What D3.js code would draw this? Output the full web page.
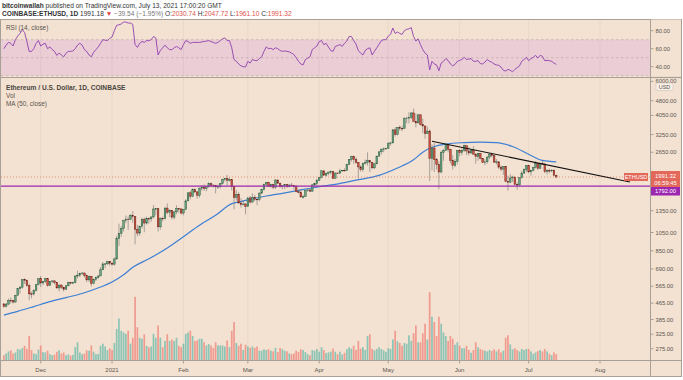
<!DOCTYPE html>
<html><head><meta charset="utf-8">
<script src="https://cdn.jsdelivr.net/npm/d3@7"></script>
<style>html,body{margin:0;padding:0;background:#fff;}svg{display:block;font-family:"Liberation Sans",Arial,sans-serif;}</style>
</head><body><svg id="c" width="683" height="380"></svg>
<script>
// ---- DATA (daily candles, COINBASE:ETHUSD, from 2020-11-15) ----
const firstDay = "2020-11-15";
const open = [
461,448,460,480,479,471,509,549,559,609,604,569,518,517,538,575,
616,587,598,616,569,596,601,591,554,573,559,546,568,590,586,589,636,642,655,658,638,608,634,584,612,626,636,683,731,732,751,
737,729,774,978,1041,1100,1208,1225,1224,1281,1262,1090,1043,1130,1218,1171,1233,1230,1257,1377,1382,1121,1236,1231,1392,1324,1357,1253,1332,1383,1379,
1314,1370,1512,1660,1594,1719,1677,1614,1750,1769,1744,1783,1843,1814,1804,1779,1781,1848,1937,1960,1919,1935,1781,1571,1626,1475,1446,1459,
1416,1565,1492,1575,1541,1533,1654,1723,1834,1868,1794,1825,1772,1924,1854,1791,1806,1823,1782,1815,1806,1782,1681,1669,1582,1587,1700,1715,1691,1818,1846,
1919,1977,2139,2034,2079,2107,2116,1963,2085,2076,2137,2152,2140,2300,2434,2518,2432,2355,2237,2166,2330,2362,2408,2363,2214,2317,2534,2662,2746,2757,
2773,2945,2950,3431,3253,3523,3490,3484,3902,3928,3952,4168,3785,3715,4079,3640,3587,3282,3380,2460,2784,2430,2295,2109,2643,2706,2888,2742,2415,2279,2388,
2706,2634,2708,2855,2689,2627,2714,2592,2518,2610,2472,2353,2373,2508,2590,2550,2365,2373,2231,2181,2247,1895,1875,1970,1990,1830,1816,1975,2084,2165,
2275,2113,2150,2226,2321,2198,2324,2316,2116,2146,2139,2155,2030.74];
const high = [
464,466,491,497,483,512,553,568,611,619,612,583,530,545,578,616,
636,600,622,619,598,604,604,594,576,576,560,571,595,591,596,640,676,660,667,662,647,639,637,616,631,644,705,746,739,754,753,
749,788,1011,1163,1132,1210,1278,1265,1300,1345,1262,1148,1133,1245,1250,1260,1250,1260,1440,1395,1385,1254,1262,1402,1468,1370,1360,1345,1436,1395,1380,
1380,1540,1667,1697,1745,1745,1694,1765,1815,1828,1788,1870,1870,1826,1808,1825,1854,1950,1965,2040,1980,1938,1786,1710,1673,1560,1525,1470,
1570,1600,1650,1621,1545,1668,1735,1840,1880,1890,1840,1840,1945,1930,1870,1815,1830,1835,1835,1860,1815,1810,1723,1737,1625,1705,1733,1730,1836,1860,1950,
1990,2145,2145,2097,2120,2150,2130,2095,2100,2190,2160,2200,2320,2450,2545,2550,2500,2370,2275,2350,2440,2645,2410,2365,2345,2540,2675,2760,2800,2790,
2950,2985,3460,3530,3540,3610,3590,3970,3985,4200,4200,4380,4145,4100,4100,3900,3600,3560,3440,2900,2940,2480,2380,2700,2750,2915,2890,2755,2560,2450,2715,
2740,2770,2890,2860,2815,2745,2840,2620,2630,2620,2480,2450,2520,2620,2630,2550,2450,2380,2280,2260,2250,2020,2060,2020,2000,1870,1980,2140,2200,2280,
2280,2160,2240,2390,2325,2350,2410,2320,2180,2190,2170,2175,2047.72];
const low = [
440,443,454,463,463,467,507,519,549,580,560,482,492,508,532,571,
560,572,588,562,566,585,578,550,532,547,532,543,565,576,579,583,619,627,645,625,593,593,563,578,600,614,636,683,695,722,715,
717,717,769,900,998,1062,1170,1080,1210,1172,917,1005,1012,1103,1053,1151,1160,1188,1240,1282,1063,1086,1194,1220,1298,1256,1222,1221,1295,1320,1290,
1280,1360,1505,1540,1585,1650,1550,1570,1700,1697,1690,1758,1776,1760,1650,1737,1745,1825,1891,1800,1890,1705,1370,1520,1468,1400,1432,1294,
1410,1465,1485,1510,1440,1505,1637,1700,1798,1780,1760,1730,1735,1850,1760,1730,1730,1755,1770,1800,1720,1670,1650,1575,1550,1585,1680,1680,1680,1800,1770,
1900,1960,2025,2000,2030,2050,1945,1960,2060,2075,2110,2115,2140,2290,2380,2320,2315,1950,2120,2115,2300,2270,2110,2175,2180,2310,2520,2580,2650,2720,
2765,2860,2940,3175,3215,3400,3380,3480,3700,3700,3880,3780,3530,3700,3600,3300,3100,3270,1900,2150,2110,2170,1730,2080,2400,2690,2650,2330,2170,2230,2300,
2530,2560,2660,2560,2550,2610,2580,2320,2400,2440,2340,2280,2320,2450,2500,2340,2300,2180,2130,2040,1880,1700,1860,1880,1810,1720,1800,1950,2060,2100,
2080,2020,2120,2200,2160,2190,2300,2080,2050,2080,2100,2010,1961.10];
const close = [
448,460,480,479,471,509,549,559,609,604,569,518,517,538,575,616,
587,598,616,569,596,601,591,554,573,559,546,568,590,586,589,636,642,655,658,638,608,634,584,612,626,636,683,731,732,751,737,
729,774,978,1041,1100,1208,1225,1224,1281,1262,1090,1043,1130,1218,1171,1233,1230,1257,1377,1382,1121,1236,1231,1392,1324,1357,1253,1332,1383,1379,1314,
1370,1512,1660,1594,1719,1677,1614,1750,1769,1744,1783,1843,1814,1804,1779,1781,1848,1937,1960,1919,1935,1781,1571,1626,1475,1446,1459,1416,
1565,1492,1575,1541,1533,1654,1723,1834,1868,1794,1825,1772,1924,1854,1791,1806,1823,1782,1815,1806,1782,1681,1669,1582,1587,1700,1715,1691,1818,1846,1919,
1977,2139,2034,2079,2107,2116,1963,2085,2076,2137,2152,2140,2300,2434,2518,2432,2355,2237,2166,2330,2362,2408,2363,2214,2317,2534,2662,2746,2757,2773,
2945,2950,3431,3253,3523,3490,3484,3902,3928,3952,4168,3785,3715,4079,3640,3587,3282,3380,2460,2784,2430,2295,2109,2643,2706,2888,2742,2415,2279,2388,2706,
2634,2708,2855,2689,2627,2714,2592,2518,2610,2472,2353,2373,2508,2590,2550,2365,2373,2231,2181,2247,1895,1875,1970,1990,1830,1816,1975,2084,2165,2275,
2113,2150,2226,2321,2198,2324,2316,2116,2146,2139,2155,2031,1991.32];
const volume = [
150,200,260,290,200,230,330,310,360,420,330,700,300,200,180,310,
430,240,230,280,180,150,170,250,290,200,230,150,170,140,160,380,520,230,180,200,290,280,430,250,180,190,420,480,400,300,350,
300,500,900,1200,850,800,760,850,480,650,1820,950,650,620,750,420,380,400,760,650,1000,650,380,560,750,560,600,560,650,420,380,
480,760,800,850,700,560,580,620,620,520,430,470,430,360,520,430,430,430,400,570,380,850,1100,500,420,480,300,450,
400,360,400,360,400,280,280,320,300,320,280,260,360,240,360,320,280,260,200,180,200,280,240,320,300,240,180,150,300,280,330,
250,380,300,210,230,250,340,250,180,250,170,220,320,380,340,420,300,560,340,380,300,700,750,330,290,330,380,330,290,250,
350,330,600,850,550,500,420,500,480,720,560,780,1000,520,520,780,1050,600,1950,1250,1100,700,1250,1050,800,700,560,700,620,450,520,
420,350,350,420,300,220,300,520,380,330,300,280,260,300,270,320,260,320,230,280,650,720,460,320,350,300,260,330,300,330,
330,260,190,230,270,300,260,330,260,190,150,230,180];
const rsi = [
60,64,67,66,63,70,74,77,81,78,68,57,57,60,66,69,
63,65,66,60,62,59,57,52.6,55,53,51,55,57,57,57.5,60,64,66,64,59,57,53,51,56,59,62,66,70,69.5,69,71.5,
73,80,86,86.5,87.5,89.5,89.7,88.5,88.5,87,64.5,61.5,66,68,67,69,69,70,73.5,72,53,58,61,64,61,59,59,61,62.5,61,59,
64.5,69,68,66,67,67,67,67,67.5,68,68.5,69,68,67,66,67,69,71,72,69,69,61,48,46,43,41,40,39.7,
46,44,48,47,46.7,49,51,57,62,60,60.5,59,61,60,58,57,57.5,57,56.5,55,53.5,50,46,43,42,48,49.5,51,59,61,63,
68,69,64.5,66,62,58,57,62.6,63.5,64.5,62.6,66,68.5,73.5,73.5,69,65,58,55,53,58,60,61,53,57,61,65,69,70,70,
74,76,83,77,78.5,77,75.8,80,81.5,82,83.5,73.5,68.5,71,64.5,59,55,53,36.5,46,43,42,35.5,44,46,49,47,43,41,42.5,46,
47,48,50.4,48,48.5,49,46,46,46.7,43.5,43,45,48,46,45,43,42,41.5,39.6,36,35.2,37,36,34.4,37,39,40.7,46,48,50.4,
46.7,49,50.4,52.6,49.6,52.6,51.5,46.7,47,46.7,46,44,42.6];
// 50-day moving average
const maDates = ["2020-11-15","2020-11-21","2020-11-28","2020-12-05","2020-12-12","2020-12-19","2020-12-27","2021-01-01","2021-01-06","2021-01-10","2021-01-17","2021-01-25","2021-02-01","2021-02-08","2021-02-15","2021-02-22","2021-02-26","2021-03-09","2021-03-16","2021-03-24","2021-04-01","2021-04-08","2021-04-17","2021-04-27","2021-05-05","2021-05-12","2021-05-16","2021-05-21","2021-05-26","2021-06-03","2021-06-10","2021-06-17","2021-06-24","2021-07-01","2021-07-07","2021-07-13"];
const maValues = [405,423,447,473,496,520,560,593,645,703,775,878,1000,1143,1280,1465,1500,1600,1650,1715,1780,1830,1920,2030,2210,2430,2650,2830,2910,2960,2975,2960,2830,2590,2410,2370];
// drawn trend line and horizontal level
const trendDates = ["2021-05-20","2021-08-14"];
const trendPrices = [3010, 1880];
const levelPrice = 1792;
const lastPrice = 1991.32;
// axis ticks
const priceTicks = [6000,4800,4050,3250,2650,1350,1050,850,690,565,465,385,325,275];
const rsiTicks = [80,60,40];
const monthDates = ["2020-12-01","2021-01-01","2021-02-01","2021-03-01","2021-04-01","2021-05-01","2021-06-01","2021-07-01","2021-08-01"];
const monthLabels = ["Dec","2021","Feb","Mar","Apr","May","Jun","Jul","Aug"];

// ---- RENDER ----
const W=683,H=380;
const svg=d3.select('#c');
const BG='#f3e2d1', FRAME='#a8a096', TXT='#5a5550';
const parse=d3.utcParse('%Y-%m-%d');
const d0=parse(firstDay);
const dates=close.map((_,i)=>d3.utcDay.offset(d0,i));
const n=Math.min(open.length,high.length,low.length,close.length,volume.length,rsi.length);

const x=d3.scaleUtc().domain([parse("2020-12-01"),parse("2021-08-01")]).range([40.7,600]);
const y=d3.scaleLog().domain([275,4800]).range([348.7,100.7]);
const yr=d3.scaleLinear().domain([40,80]).range([66.7,30.7]);
const yv=d3.scaleLinear().domain([0,2000]).range([360.5,290.5]);

svg.append('rect').attr('width',W).attr('height',H).attr('fill','#fff');
svg.append('rect').attr('x',0.5).attr('y',19.5).attr('width',681).attr('height',357).attr('fill',BG).attr('stroke',FRAME);

const defs=svg.append('defs');
defs.append('clipPath').attr('id','cr').append('rect').attr('x',1).attr('y',20).attr('width',649).attr('height',57);
defs.append('clipPath').attr('id','cm').append('rect').attr('x',1).attr('y',78).attr('width',649).attr('height',282.5);

// header
const h1=svg.append('text').attr('x',2).attr('y',7.5).attr('font-size',6.6).attr('fill','#333');
h1.append('tspan').attr('font-weight','bold').text('bitcoinwallah');
h1.append('tspan').text(' published on TradingView.com, July 13, 2021 17:00:20 GMT');
const h2=svg.append('text').attr('x',2).attr('y',15.5).attr('font-size',6.6).attr('fill','#333');
h2.append('tspan').attr('font-weight','bold').text('COINBASE:ETHUSD, 1D');
h2.append('tspan').text(' 1991.18 ');
h2.append('tspan').attr('fill','#e0403a').text('▼');
h2.append('tspan').attr('fill','#777').text(' −39.54 (−1.95%) ');
const red='#e0504a';
[['O:','2030.74'],[' H:','2047.72'],[' L:','1961.10'],[' C:','1991.32']].forEach(([a,b])=>{
  h2.append('tspan').text(a); h2.append('tspan').attr('fill',red).text(b);
});

// RSI pane
const gr=svg.append('g').attr('clip-path','url(#cr)');
gr.selectAll('line.vg').data(monthDates).enter().append('line')
  .attr('x1',d=>x(parse(d))).attr('x2',d=>x(parse(d))).attr('y1',20).attr('y2',77)
  .attr('stroke','rgba(120,100,80,0.07)');
gr.append('rect').attr('x',1).attr('width',649).attr('y',yr(70)).attr('height',yr(30)-yr(70)).attr('fill','rgba(153,21,255,0.1)');
[70,50,30].forEach(v=>gr.append('line').attr('x1',1).attr('x2',650).attr('y1',yr(v)).attr('y2',yr(v))
  .attr('stroke','#b9a6a0').attr('stroke-width',0.6).attr('stroke-dasharray','2.5,2.5'));
gr.append('path').datum(d3.range(n)).attr('fill','none').attr('stroke','#8e3fae').attr('stroke-width',0.9)
  .attr('d',d3.line().x(i=>x(dates[i])).y(i=>yr(rsi[i])));
svg.append('text').attr('x',6).attr('y',29.5).attr('font-size',6.4).attr('fill',TXT).text('RSI (14, close)');

// main pane
const gm=svg.append('g').attr('clip-path','url(#cm)');
gm.selectAll('line.vg').data(monthDates).enter().append('line')
  .attr('x1',d=>x(parse(d))).attr('x2',d=>x(parse(d))).attr('y1',78).attr('y2',360)
  .attr('stroke','rgba(120,100,80,0.07)');
// volume
gm.selectAll('rect.v').data(d3.range(n)).enter().append('rect')
  .attr('x',i=>x(dates[i])-0.85).attr('width',1.7)
  .attr('y',i=>yv(volume[i])).attr('height',i=>yv(0)-yv(volume[i]))
  .attr('fill',i=>close[i]>=open[i]?'rgba(38,166,154,0.5)':'rgba(239,83,80,0.5)');
// MA
gm.append('path').datum(d3.range(maDates.length)).attr('fill','none').attr('stroke','#3d7fd6').attr('stroke-width',1.2)
  .attr('d',d3.line().curve(d3.curveMonotoneX).x(i=>x(parse(maDates[i]))).y(i=>y(maValues[i])));
// candles
const cg=gm.selectAll('g.c').data(d3.range(n)).enter().append('g');
cg.append('line').attr('x1',i=>x(dates[i])).attr('x2',i=>x(dates[i]))
  .attr('y1',i=>y(high[i])).attr('y2',i=>y(low[i])).attr('stroke','#737375').attr('stroke-width',0.6);
cg.append('rect').attr('x',i=>x(dates[i])-0.8).attr('width',1.6)
  .attr('y',i=>y(Math.max(open[i],close[i])))
  .attr('height',i=>Math.max(0.6,y(Math.min(open[i],close[i]))-y(Math.max(open[i],close[i]))))
  .attr('fill',i=>close[i]>=open[i]?'#6ba583':'#d75442')
  .attr('stroke',i=>close[i]>=open[i]?'#225437':'#5b1a13').attr('stroke-width',0.45);
// levels
gm.append('line').attr('x1',1).attr('x2',650).attr('y1',y(lastPrice)).attr('y2',y(lastPrice))
  .attr('stroke','#e0684f').attr('stroke-width',0.7).attr('stroke-dasharray','1,2');
gm.append('line').attr('x1',1).attr('x2',650).attr('y1',y(levelPrice)).attr('y2',y(levelPrice))
  .attr('stroke','#9c27b0').attr('stroke-width',1.3);
gm.append('line').attr('x1',x(parse(trendDates[0]))).attr('x2',x(parse(trendDates[1])))
  .attr('y1',y(trendPrices[0])).attr('y2',y(trendPrices[1])).attr('stroke','#111').attr('stroke-width',1.1);

// main labels
svg.append('text').attr('x',6).attr('y',89.5).attr('font-size',6.6).attr('font-weight','bold').attr('fill','#4a4540').text('Ethereum / U.S. Dollar, 1D, COINBASE');
svg.append('text').attr('x',6).attr('y',97.5).attr('font-size',6.4).attr('fill',TXT).text('Vol');
svg.append('text').attr('x',6).attr('y',105.5).attr('font-size',6.4).attr('fill',TXT).text('MA (50, close)');

// separators
svg.append('line').attr('x1',0).attr('x2',682).attr('y1',77.5).attr('y2',77.5).attr('stroke',FRAME).attr('stroke-width',1.2);
svg.append('line').attr('x1',0).attr('x2',682).attr('y1',360.5).attr('y2',360.5).attr('stroke',FRAME);
svg.append('line').attr('x1',650.5).attr('x2',650.5).attr('y1',19.5).attr('y2',376.5).attr('stroke',FRAME);

// price axis
const ga=svg.append('g');
const ptk=ga.selectAll('g.p').data(priceTicks).enter().append('g');
ptk.append('line').attr('x1',650.5).attr('x2',653.5).attr('y1',d=>y(d)).attr('y2',d=>y(d)).attr('stroke',FRAME);
ptk.append('text').attr('x',655.5).attr('y',d=>y(d)+2).attr('font-size',5.8).attr('fill',TXT).text(d=>d3.format('.2f')(d));
ga.append('rect').attr('x',651).attr('y',19.5).attr('width',30).attr('height',58).attr('fill',BG);
const rtk=ga.selectAll('g.r').data(rsiTicks).enter().append('g');
rtk.append('line').attr('x1',650.5).attr('x2',653.5).attr('y1',d=>yr(d)).attr('y2',d=>yr(d)).attr('stroke',FRAME);
rtk.append('text').attr('x',655.5).attr('y',d=>yr(d)+2).attr('font-size',5.8).attr('fill',TXT).text(d=>d3.format('.2f')(d));
svg.append('line').attr('x1',650).attr('x2',682).attr('y1',77.5).attr('y2',77.5).attr('stroke',FRAME).attr('stroke-width',1.2);
// USD box
ga.append('rect').attr('x',656).attr('y',83).attr('width',17).attr('height',7.5).attr('rx',1).attr('fill','#f8efe6').attr('stroke','#c4bbb0').attr('stroke-width',0.5);
ga.append('text').attr('x',664.5).attr('y',88.8).attr('text-anchor','middle').attr('font-size',5.5).attr('fill',TXT).text('USD');
// labels
const ly=y(lastPrice);
ga.append('rect').attr('x',624).attr('y',ly-4).attr('width',24).attr('height',8).attr('fill','#e2685a');
ga.append('text').attr('x',636).attr('y',ly+2).attr('text-anchor','middle').attr('font-size',5.5).attr('fill','#fff').text('ETHUSD');
ga.append('rect').attr('x',651).attr('y',ly-6).attr('width',29).attr('height',16).attr('fill','#e2685a');
ga.append('text').attr('x',665.5).attr('y',ly+0.5).attr('text-anchor','middle').attr('font-size',5.8).attr('fill','#fff').text(d3.format('.2f')(lastPrice));
ga.append('text').attr('x',665.5).attr('y',ly+8).attr('text-anchor','middle').attr('font-size',5.8).attr('fill','#fff').text('06:59:45');
ga.append('rect').attr('x',651).attr('y',ly+10).attr('width',29).attr('height',8.5).attr('fill','#9c27b0');
ga.append('text').attr('x',665.5).attr('y',ly+16.3).attr('text-anchor','middle').attr('font-size',5.8).attr('fill','#fff').text(d3.format('.2f')(levelPrice));

// time axis
const tk=svg.append('g').selectAll('g.t').data(monthDates).enter().append('g');
tk.append('line').attr('x1',(d)=>x(parse(d))).attr('x2',d=>x(parse(d))).attr('y1',360.5).attr('y2',363.5).attr('stroke',FRAME);
tk.append('text').attr('x',d=>x(parse(d))).attr('y',371.5).attr('text-anchor','middle').attr('font-size',6).attr('fill',TXT)
  .text((d,i)=>monthLabels[i]);
</script></body></html>
